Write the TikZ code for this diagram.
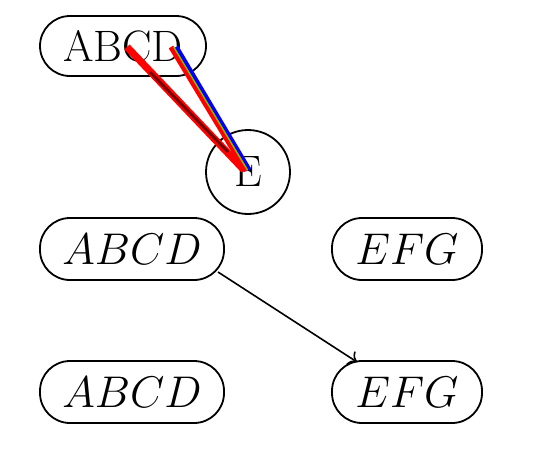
\documentclass[tikz,border=0pt]{standalone}
\usepackage{graphicx}
\usetikzlibrary{calc,arrows.meta}
\newcommand{\mth}[1]{\scalebox{1.07}{$#1$}}
\begin{document}
\begin{tikzpicture}[x=0.5pt,y=-0.5pt,
  pill/.style={draw,line width=0.9pt,rounded corners=15pt,minimum height=31pt,inner sep=0pt,font=\fontsize{22}{26}\selectfont},
  circ/.style={draw,circle,line width=0.9pt,minimum size=42pt,inner sep=0pt,font=\fontsize{22}{26}\selectfont},
  conn/.style={line width=0.8pt,-{To[length=4pt,width=8pt]}}]
\useasboundingbox (0,0) rectangle (540,450);
\node[pill,minimum width=83pt,minimum height=30pt] (top) at (123,46) {ABCD};
\node[circ] (e) at (248,172) {E};
\node[pill,minimum width=92pt] (m1) at (132,249) {\mth{ABCD}};
\node[pill,minimum width=75pt] (m2) at (407,249) {\mth{EFG}};
\node[pill,minimum width=92pt] (b1) at (132,392) {\mth{ABCD}};
\node[pill,minimum width=75pt] (b2) at (407,392) {\mth{EFG}};
% coloured strokes from ABCD to E
\coordinate (a1) at (127,47);
\coordinate (e1) at (244,170);
\coordinate (a2) at (171,47);
\coordinate (e2) at (246,171);
\coordinate (a3) at (176,47);
\coordinate (e3) at (249,170);
\coordinate (k1) at (150,72);
\coordinate (k2) at (228,152);
\draw[red,line width=3.6pt] (a1) -- (e1);
\draw[black,opacity=0.55,line width=1.4pt] (k1) -- (k2);
\draw[blue,line width=2.6pt] (a3) -- (e3);
\draw[red,line width=2.6pt] (a2) -- (e2);
\draw[green!50!orange,line width=0.7pt] ($(a2)!0.55!(a3)$) -- ($(e2)!0.55!(e3)$);
% arrow
\coordinate (s) at (218,272);
\coordinate (t) at (357,362);
\draw[conn] (s) -- (t);
\end{tikzpicture}
\end{document}
